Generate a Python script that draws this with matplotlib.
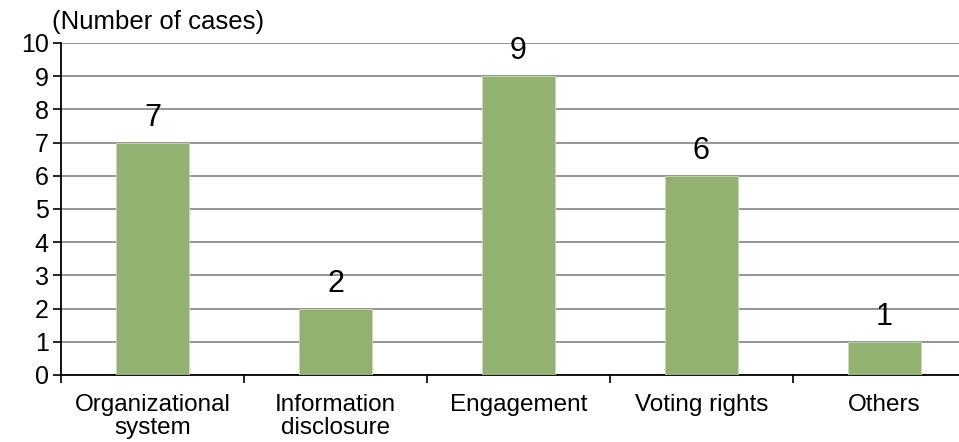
import matplotlib
matplotlib.use("Agg")
import matplotlib.pyplot as plt
import numpy as np

categories = ["Organizational\nsystem", "Information\ndisclosure", "Engagement", "Voting rights", "Others"]
counts = [7, 2, 9, 6, 1]
y_ticks = list(range(0, 11))

plt.rcParams['font.family'] = ['Liberation Sans', 'DejaVu Sans']

fig = plt.figure(figsize=(9.59, 4.42), dpi=100)
ax = fig.add_axes([61 / 959, 67 / 442, 915 / 959, 332 / 442])

x = np.arange(len(categories))
ax.bar(x, counts, width=0.4, color="#93b170", edgecolor="#c9d9b5", linewidth=0.6, zorder=3)

for xi, v in zip(x, counts):
    ax.annotate(str(v), (xi, v), xytext=(0, 7), textcoords="offset points",
                ha="center", va="bottom", fontsize=22)

ax.set_xlim(-0.5, len(categories) - 0.5)
ax.set_ylim(0, 10)
ax.set_yticks(y_ticks)
ax.set_yticklabels([str(t) for t in y_ticks], fontsize=18)
ax.yaxis.grid(True, color="#8c8c8c", linewidth=1.3, zorder=0)
ax.set_axisbelow(True)

# category labels centred, tick marks on boundaries
ax.set_xticks(x)
ax.set_xticklabels(categories, fontsize=17.5, linespacing=1.05)
ax.tick_params(axis="x", length=0, pad=14)
ax.set_xticks(np.arange(-0.5, len(categories)), minor=True)
ax.tick_params(axis="x", which="minor", length=6, width=1.2, direction="out", color="black")
ax.tick_params(axis="y", length=6, width=1.2, direction="out", pad=3)

for s in ["top", "right"]:
    ax.spines[s].set_visible(False)
ax.spines["left"].set_linewidth(1.3)
ax.spines["bottom"].set_linewidth(1.3)

fig.text(52 / 959, 1 - 22 / 442, "(Number of cases)", fontsize=18.5, ha="left", va="center")

fig.savefig("out.png", dpi=100)
